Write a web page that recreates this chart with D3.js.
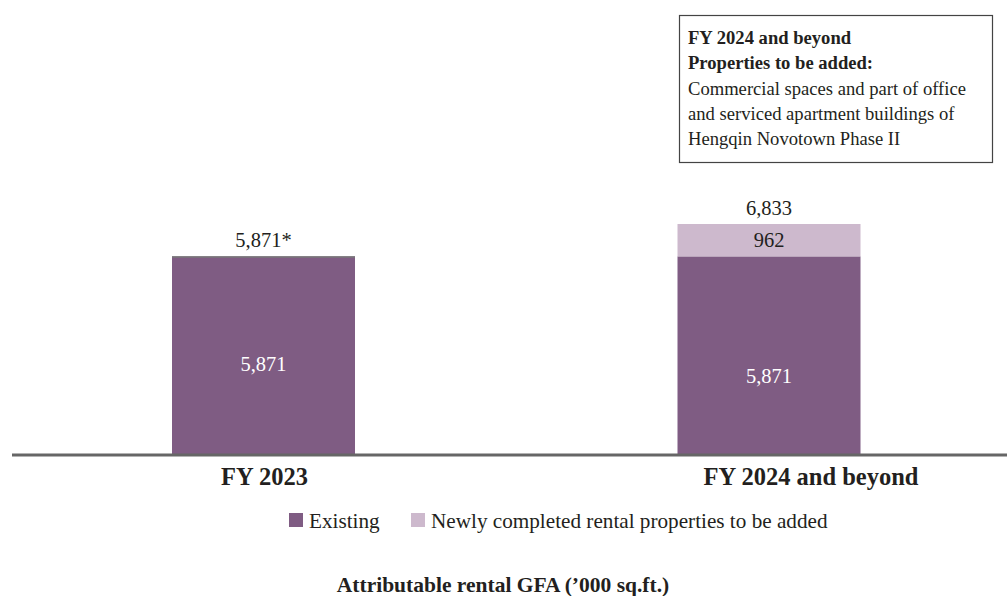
<!DOCTYPE html>
<html>
<head>
<meta charset="utf-8">
<script src="https://cdn.jsdelivr.net/npm/d3@7"></script>
<style>
  body { margin: 0; background: #fff; }
  text { font-family: "Liberation Serif", "Times New Roman", serif; fill: #231f20; }
</style>
</head>
<body>
<div id="chart"></div>
<script>
// data
var categories = ["FY 2023", "FY 2024 and beyond"];
var existing = [5871, 5871];
var newlyAdded = [0, 962];
var totalLabels = ["5,871*", "6,833"];
var seriesNames = ["Existing", "Newly completed rental properties to be added"];
var noteLines = ["FY 2024 and beyond", "Properties to be added:",
  "Commercial spaces and part of office", "and serviced apartment buildings of",
  "Hengqin Novotown Phase II"];
var title = "Attributable rental GFA (\u2019000 sq.ft.)";

var width = 1007, height = 596;
var colors = ["#7f5c83", "#cdb9cd"];

var svg = d3.select("#chart").append("svg")
  .attr("width", width)
  .attr("height", height);

// scales
var xScale = d3.scalePoint().domain(categories).range([263.5, 769]);
var barW = 183;
var yScale = d3.scaleLinear().domain([0, 6833]).range([454, 224]);

var stackData = categories.map(function(c, i) {
  return {cat: c, existing: existing[i], newly: newlyAdded[i]};
});
var stacked = d3.stack().keys(["existing", "newly"])(stackData);

// bars
svg.append("g").selectAll("g")
  .data(stacked)
  .enter().append("g")
  .attr("fill", function(d, i) { return colors[i]; })
  .selectAll("rect")
  .data(function(d) { return d; })
  .enter().append("rect")
    .attr("x", function(d) { return xScale(d.data.cat) - barW / 2; })
    .attr("y", function(d) { return yScale(d[1]); })
    .attr("width", barW)
    .attr("height", function(d) { return yScale(d[0]) - yScale(d[1]); });

// thin grey cap on the first bar
svg.append("line")
  .attr("x1", xScale(categories[0]) - barW / 2)
  .attr("x2", xScale(categories[0]) + barW / 2)
  .attr("y1", yScale(existing[0]) + 0.5)
  .attr("y2", yScale(existing[0]) + 0.5)
  .style("stroke", "#777")
  .style("stroke-width", 1.5);

// inside labels (existing)
svg.append("g").selectAll("text")
  .data(stackData)
  .enter().append("text")
    .attr("x", function(d) { return xScale(d.cat); })
    .attr("y", function(d, i) { return i === 0 ? 371 : 383; })
    .attr("text-anchor", "middle")
    .style("font-size", "20.5px")
    .style("fill", "#fff")
    .text(function(d) { return d3.format(",")(d.existing); });

// newly segment label
svg.append("g").selectAll("text")
  .data(stackData.filter(function(d) { return d.newly > 0; }))
  .enter().append("text")
    .attr("x", function(d) { return xScale(d.cat); })
    .attr("y", function(d) { return (yScale(d.existing) + yScale(d.existing + d.newly)) / 2 + 7; })
    .attr("text-anchor", "middle")
    .style("font-size", "20.5px")
    .text(function(d) { return d3.format(",")(d.newly); });

// totals
svg.append("g").selectAll("text")
  .data(stackData)
  .enter().append("text")
    .attr("x", function(d) { return xScale(d.cat); })
    .attr("y", function(d) { return yScale(d.existing + d.newly) - 9.5; })
    .attr("text-anchor", "middle")
    .style("font-size", "20.5px")
    .text(function(d, i) { return totalLabels[i]; });

// x axis line
svg.append("line")
  .attr("x1", 12).attr("x2", width)
  .attr("y1", yScale(0) + 1).attr("y2", yScale(0) + 1)
  .style("stroke", "#666")
  .style("stroke-width", 3);

// category labels
svg.append("g").selectAll("text")
  .data(categories)
  .enter().append("text")
    .attr("x", function(d, i) { return xScale(d) + (i === 1 ? 42 : 1); })
    .attr("y", 485)
    .attr("text-anchor", "middle")
    .style("font-size", "24.5px")
    .style("font-weight", "bold")
    .text(function(d) { return d; });

// legend
var legendX = [289, 411];
var legend = svg.append("g").selectAll("g")
  .data(seriesNames)
  .enter().append("g")
  .attr("transform", function(d, i) { return "translate(" + legendX[i] + ",513)"; });
legend.append("rect")
  .attr("width", 14).attr("height", 14)
  .attr("fill", function(d, i) { return colors[i]; });
legend.append("text")
  .attr("x", 20).attr("y", 15)
  .style("font-size", "21.2px")
  .text(function(d) { return d; });

// note box
svg.append("rect")
  .attr("x", 679.5).attr("y", 15.5)
  .attr("width", 313).attr("height", 147)
  .style("fill", "none")
  .style("stroke", "#444")
  .style("stroke-width", 1.2);
svg.append("g").selectAll("text")
  .data(noteLines)
  .enter().append("text")
    .attr("x", 688)
    .attr("y", function(d, i) { return 44 + i * 25.3; })
    .style("font-size", "18.6px")
    .style("font-weight", function(d, i) { return i < 2 ? "bold" : "normal"; })
    .text(function(d) { return d; });

// title
svg.append("text")
  .attr("x", 503).attr("y", 592)
  .attr("text-anchor", "middle")
  .style("font-size", "21.5px")
  .style("font-weight", "bold")
  .text(title);
</script>
</body>
</html>
